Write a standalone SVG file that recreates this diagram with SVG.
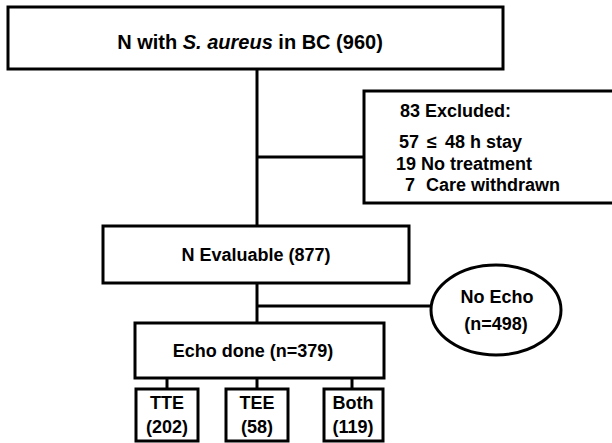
<svg xmlns="http://www.w3.org/2000/svg" width="612" height="443" viewBox="0 0 612 443">
<style>
.b{fill:#fff;stroke:#000;stroke-width:3}
.c{stroke:#000;stroke-width:3;fill:none}
text{font-family:"Liberation Sans",Arial,sans-serif;font-weight:bold;fill:#000}
.t{font-size:20px}
.m{font-size:18px}
</style>
<rect width="612" height="443" fill="#fff"/>
<g id="connectors">
<line class="c" x1="257" y1="69" x2="257" y2="226"/>
<line class="c" x1="257" y1="157" x2="364" y2="157"/>
<line class="c" x1="257" y1="283" x2="257" y2="323"/>
<line class="c" x1="257" y1="306" x2="431" y2="306"/>
<line class="c" x1="167" y1="378" x2="167" y2="389"/>
<line class="c" x1="257" y1="378" x2="257" y2="389"/>
<line class="c" x1="352" y1="378" x2="352" y2="389"/>
</g>
<g id="top">
<rect class="b" x="8" y="7" width="495" height="62"/>
<text class="t" x="250" y="49" text-anchor="middle">N with <tspan font-style="italic">S. aureus</tspan> in BC (960)</text>
</g>
<g id="excluded">
<rect class="b" x="364" y="91" width="260" height="112"/>
<text class="m" x="400" y="117">83 Excluded:</text>
<text class="m" x="399" y="148">57<tspan x="427">≤</tspan><tspan x="445">48 h stay</tspan></text>
<text class="m" x="396" y="170">19 No treatment</text>
<text class="m" x="405" y="191">7<tspan x="426">Care withdrawn</tspan></text>
</g>
<g id="evaluable">
<rect class="b" x="103" y="226" width="306" height="57"/>
<text class="m" x="256" y="261" text-anchor="middle">N Evaluable (877)</text>
</g>
<g id="noecho">
<ellipse class="b" cx="496" cy="310" rx="65" ry="45"/>
<text class="m" x="497" y="303" text-anchor="middle">No Echo</text>
<text class="m" x="496" y="330" text-anchor="middle">(n=498)</text>
</g>
<g id="echodone">
<rect class="b" x="135" y="323" width="249" height="55"/>
<text class="m" x="253" y="357" text-anchor="middle">Echo done (n=379)</text>
</g>
<g id="tte">
<rect class="b" x="136" y="389" width="62" height="52"/>
<text class="m" x="167" y="409" text-anchor="middle">TTE</text>
<text class="m" x="167" y="433" text-anchor="middle">(202)</text>
</g>
<g id="tee">
<rect class="b" x="226" y="389" width="62" height="52"/>
<text class="m" x="257" y="409" text-anchor="middle">TEE</text>
<text class="m" x="257" y="433" text-anchor="middle">(58)</text>
</g>
<g id="both">
<rect class="b" x="324" y="389" width="59" height="52"/>
<text class="m" x="353" y="409" text-anchor="middle">Both</text>
<text class="m" x="353" y="433" text-anchor="middle">(119)</text>
</g>
</svg>
